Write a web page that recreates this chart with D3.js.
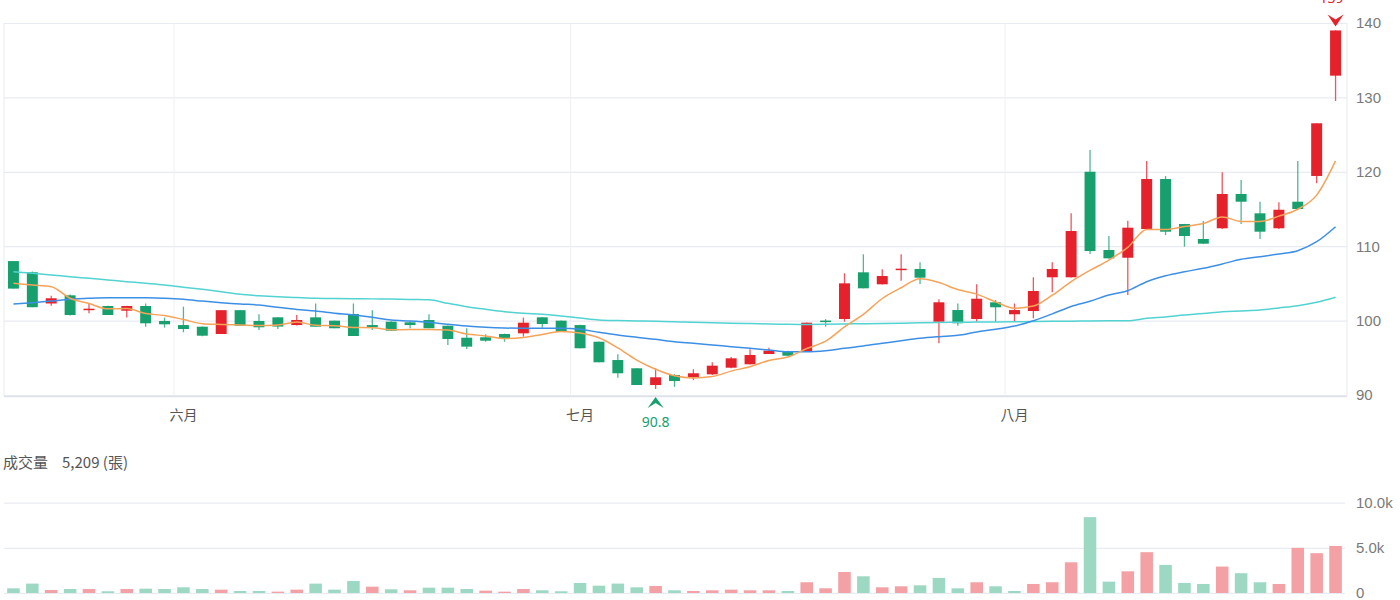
<!DOCTYPE html>
<html><head><meta charset="utf-8">
<script src="https://cdn.jsdelivr.net/npm/d3@7/dist/d3.min.js"></script>
<style>
body{margin:0;background:#fff;}
svg{display:block;font-family:"Noto Sans","Noto Sans CJK TC",sans-serif;}
</style>
</head><body>
<svg id="chart" width="1400" height="600"></svg>
<script>
// ---- data ----
const openP  = [108.0,106.5,102.3,103.4,101.45,101.96,101.33,101.96,99.95,99.4,99.18,98.2,101.4,99.95,100.44,99.4,100.44,99.99,100.89,99.4,99.85,99.77,100.08,99.31,97.7,97.76,98.2,98.29,100.44,99.99,99.4,97.16,94.7,93.59,91.34,92.69,92.38,92.78,93.67,94.13,95.51,95.91,95.82,100.0,100.21,106.49,104.88,106.8,106.94,99.85,101.42,100.21,102.46,100.85,101.29,105.82,105.82,120.01,109.49,108.45,112.31,119.03,112.98,110.97,112.41,117.02,114.42,112.41,115.98,119.44,132.92];
const highP  = [108.0,106.6,103.35,103.5,102.3,102.0,102.0,102.3,100.4,101.87,99.2,101.4,101.4,100.85,100.5,100.75,102.3,100.0,102.3,101.4,99.9,99.9,100.85,99.35,98.97,98.16,98.25,100.4,100.5,100.0,99.45,97.2,95.47,93.6,93.59,92.8,93.46,94.4,95.1,96.14,96.36,95.95,99.75,100.2,106.36,108.91,106.89,108.91,107.84,102.86,102.3,104.88,102.77,102.3,105.82,107.84,114.42,122.93,111.37,113.43,121.45,119.44,113.0,113.39,119.93,118.9,115.98,115.9,121.45,126.52,139.0];
const lowP   = [104.3,101.8,102.0,100.7,101.0,100.75,100.4,99.18,99.05,98.43,97.9,98.2,99.3,98.74,98.87,99.35,99.18,98.97,97.93,98.74,98.64,98.97,98.97,96.72,96.18,97.16,97.16,97.84,99.04,98.5,96.28,94.4,92.33,91.34,90.8,91.1,92.0,92.7,93.6,94.1,95.5,95.28,95.8,99.18,99.85,104.34,104.85,105.36,104.92,96.95,99.31,99.85,99.85,99.85,100.31,103.8,105.8,108.95,108.3,103.44,112.2,111.5,109.93,110.3,112.3,112.98,110.97,112.3,114.9,118.45,129.52];
const closeP = [104.3,101.8,103.0,100.75,101.6,100.75,101.96,99.64,99.5,98.87,97.97,101.4,99.31,99.1,99.2,100.08,99.18,98.97,97.93,99.1,98.64,99.4,98.97,97.53,96.5,97.3,97.62,99.72,99.54,98.51,96.28,94.4,92.92,91.34,92.38,91.88,92.92,93.94,94.93,95.38,95.96,95.28,99.72,99.8,105.01,104.34,105.99,106.98,105.77,102.46,99.64,102.94,101.79,101.42,103.98,106.94,112.04,109.35,108.37,112.49,119.03,111.95,111.37,110.34,117.02,115.98,111.95,114.9,115.0,126.52,139.0];
const volume = [520,1040,330,440,440,190,440,480,440,630,440,370,220,220,150,370,1040,370,1330,700,410,300,590,590,440,260,150,440,300,190,1110,810,1040,630,780,300,220,300,370,300,300,220,1190,520,2330,1850,630,740,850,1670,520,1190,740,220,1000,1190,3400,8400,1260,2400,4520,3110,1110,1000,2930,2190,1190,1000,5000,4410,5209];
const ma5  = [105.01,104.78,104.56,103.0,102.29,101.58,101.61,100.94,100.69,100.14,99.59,99.48,99.41,99.33,99.40,99.82,99.37,99.31,99.07,99.05,98.76,98.81,98.81,98.73,98.21,97.94,97.58,97.73,98.14,98.54,98.33,97.69,96.33,94.69,93.46,92.58,92.29,92.49,93.21,93.81,94.63,95.10,96.25,97.23,99.15,100.83,102.97,104.42,105.62,105.11,104.17,103.56,102.52,101.65,101.95,103.41,105.23,106.75,108.14,109.84,112.26,112.24,112.64,113.04,113.94,113.33,113.33,114.04,114.97,116.87,121.47];
const ma20 = [102.23,102.41,102.63,102.86,103.0,103.08,103.08,103.08,103.0,102.86,102.63,102.41,102.23,102.1,101.79,101.5,101.29,101.0,100.75,100.44,100.08,99.95,99.77,99.5,99.27,99.1,99.0,98.97,98.97,98.97,98.83,98.43,98.06,97.76,97.49,97.16,96.95,96.72,96.5,96.28,96.05,95.82,95.82,95.96,96.28,96.59,96.95,97.3,97.62,97.84,98.02,98.47,98.83,99.27,99.99,100.9,101.9,102.6,103.44,104.02,105.23,106.03,106.57,107.03,107.61,108.24,108.59,108.95,109.4,110.6,112.62];
const ma60 = [106.57,106.36,106.14,105.9,105.68,105.46,105.23,105.01,104.78,104.47,104.2,103.89,103.53,103.35,103.21,103.1,103.0,102.97,102.95,102.92,102.9,102.85,102.8,102.32,101.87,101.52,101.2,100.98,100.85,100.62,100.35,100.08,100.0,99.95,99.9,99.86,99.77,99.7,99.64,99.6,99.54,99.5,99.48,99.5,99.54,99.58,99.62,99.66,99.7,99.74,99.78,99.8,99.82,99.85,99.87,99.9,99.92,99.95,99.97,99.99,100.3,100.5,100.75,100.95,101.2,101.3,101.42,101.7,102.0,102.46,103.13];
const monthLabels = ["六月","七月","八月"];
const monthStart  = [9,30,53];
const priceTicks  = [90,100,110,120,130,140];
const volumeTicks = [0,5000,10000];
const maxLabel = "139";
const minLabel = "90.8";

// ---- styles ----
const RED="#e5212c", GREEN="#17a06e", VRED="#f3a1a5", VGREEN="#9dd8c3";
const GRID="#e8ebf2", AXTXT="#7a7a7a";

const svg=d3.select("#chart");
const N=closeP.length;
const L=4, R=1345, RB=1347;
const x=d3.scaleBand().domain(d3.range(N)).range([L,R]).paddingInner(0.42).paddingOuter(0.21);
const y=d3.scaleLinear().domain([90,140]).range([395,23]);
const yv=d3.scaleLinear().domain([0,10000]).range([593,502.7]);
const cx=i=>x(i)+x.bandwidth()/2;
const bandStart=i=>x(i)-(x.step()-x.bandwidth())/2;

// price grid
const gGrid=svg.append("g").attr("transform",`translate(${RB},0)`)
  .call(d3.axisLeft(y).tickValues(priceTicks).tickSize(RB-L).tickFormat(""));
gGrid.select(".domain").remove();
gGrid.selectAll("line").attr("stroke",GRID).attr("stroke-width",1.2);

// month grid lines
svg.append("g").selectAll("line").data(monthStart).join("line")
  .attr("x1",d=>bandStart(d)).attr("x2",d=>bandStart(d))
  .attr("y1",y(140)).attr("y2",396)
  .attr("stroke","#eef0f5").attr("stroke-width",1);

// frame
svg.append("line").attr("x1",L).attr("x2",L).attr("y1",y(140)).attr("y2",396).attr("stroke",GRID);
svg.append("line").attr("x1",RB).attr("x2",RB).attr("y1",y(140)).attr("y2",396).attr("stroke",GRID);
svg.append("line").attr("x1",L).attr("x2",RB).attr("y1",396.5).attr("y2",396.5).attr("stroke","#dde1ea").attr("stroke-width",1.5);

// price axis labels
const gY=svg.append("g").attr("transform",`translate(${RB},0)`)
  .call(d3.axisRight(y).tickValues(priceTicks).tickSize(0).tickPadding(9));
gY.select(".domain").remove();
gY.selectAll("text").attr("fill",AXTXT).style("font-size","15px");

// month labels
svg.append("g").selectAll("text").data(monthStart).join("text")
  .attr("x",d=>cx(d)).attr("y",420).attr("text-anchor","middle")
  .attr("fill","#555").style("font-size","14px")
  .style("font-family",'"Noto Sans CJK TC",sans-serif')
  .text((d,i)=>monthLabels[i]);

// candles
const data=d3.range(N).map(i=>({i,o:openP[i],h:highP[i],l:lowP[i],c:closeP[i]}));
const gC=svg.append("g");
gC.selectAll("line").data(data).join("line")
  .attr("x1",d=>cx(d.i)).attr("x2",d=>cx(d.i))
  .attr("y1",d=>y(d.h)).attr("y2",d=>y(d.l))
  .attr("stroke",d=>d.c>=d.o?RED:GREEN).attr("stroke-width",1.3).attr("opacity",0.75);
gC.selectAll("rect").data(data).join("rect")
  .attr("x",d=>x(d.i)).attr("width",x.bandwidth())
  .attr("y",d=>y(Math.max(d.o,d.c)))
  .attr("height",d=>Math.max(1.5,Math.abs(y(d.o)-y(d.c))))
  .attr("fill",d=>d.c>=d.o?RED:GREEN);

// moving averages
const lineGen=arr=>d3.line().x((d,i)=>cx(i)).y(d=>y(d)).curve(d3.curveMonotoneX)(arr);
[[ma60,"#52d3d2"],[ma20,"#3d8fe6"],[ma5,"#f6a35a"]].forEach(([arr,col])=>{
  svg.append("path").attr("d",lineGen(arr)).attr("fill","none").attr("stroke",col).attr("stroke-width",1.5);
});

// max marker
const imax=d3.maxIndex(highP), imin=d3.minIndex(lowP);
const mx=cx(imax), my=y(highP[imax])-4;
svg.append("path").attr("d",`M${mx-8},${my-12}L${mx},${my-7}L${mx+8},${my-12}L${mx},${my}Z`).attr("fill",RED);
svg.append("text").attr("x",mx-4).attr("y",3).attr("text-anchor","middle").attr("fill",RED)
  .style("font-size","14px").text(maxLabel);
// min marker
const nx=cx(imin), ny=y(lowP[imin])+8;
svg.append("path").attr("d",`M${nx-8},${ny+11}L${nx},${ny+6}L${nx+8},${ny+11}L${nx},${ny}Z`).attr("fill",GREEN);
svg.append("text").attr("x",nx).attr("y",ny+30).attr("text-anchor","middle").attr("fill",GREEN)
  .style("font-size","14px").text(minLabel);

// volume title
const title=svg.append("text").attr("x",3).attr("y",468).attr("fill","#555").style("font-size","15px")
  .style("font-family",'"Noto Sans CJK TC",sans-serif');
title.append("tspan").text("成交量");
title.append("tspan").attr("x",62).text(d3.format(",")(volume[N-1])+" (張)");

// volume grid
const gVG=svg.append("g").attr("transform",`translate(${R},0)`)
  .call(d3.axisLeft(yv).tickValues(volumeTicks).tickSize(R-L).tickFormat(""));
gVG.select(".domain").remove();
gVG.selectAll("line").attr("stroke",GRID).attr("stroke-width",1.2);

// volume axis labels
const gV=svg.append("g").attr("transform",`translate(${RB},0)`)
  .call(d3.axisRight(yv).tickValues(volumeTicks).tickSize(0).tickPadding(9)
    .tickFormat(v=>v===0?"0":(v/1000).toFixed(1)+"k"));
gV.select(".domain").remove();
gV.selectAll("text").attr("fill",AXTXT).style("font-size","15px");

// volume bars (colour by close vs previous close)
svg.append("g").selectAll("rect").data(volume).join("rect")
  .attr("x",(d,i)=>x(i)-0.8).attr("width",x.bandwidth()+1.6)
  .attr("y",d=>yv(d)).attr("height",d=>yv(0)-yv(d))
  .attr("fill",(d,i)=>(i>0&&closeP[i]>closeP[i-1])?VRED:VGREEN);
</script>
</body></html>
